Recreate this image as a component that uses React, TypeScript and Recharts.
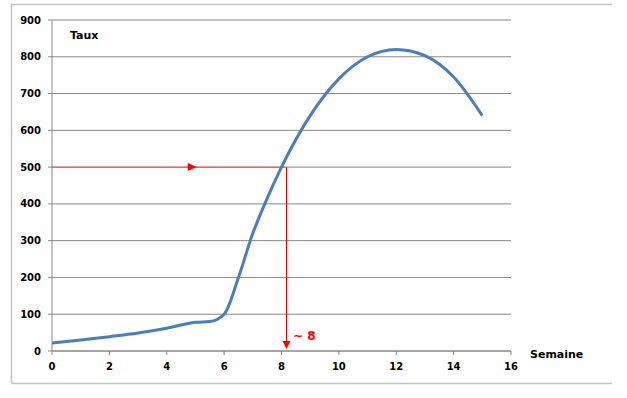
import React from 'react';
import {
  LineChart, Line, XAxis, YAxis, CartesianGrid, ReferenceLine, Customized,
} from 'recharts';

// semaines et taux
const weeks = [0, 1, 2, 3, 4, 5, 5.5, 6, 6.5, 7, 7.5, 8, 9, 10, 11, 12, 13, 14, 15];
const taux = [22, 30, 39, 49, 62, 78, 80, 100, 200, 320, 415, 500, 640, 740, 800, 820, 803, 745, 640];

const xTicks = [0, 2, 4, 6, 8, 10, 12, 14, 16];
const yTicks = [0, 100, 200, 300, 400, 500, 600, 700, 800, 900];

// lecture : taux 500 -> semaine ~8
const seuil = 500;
const semaineLue = 8.14;

const data = weeks.map((w, i) => ({ semaine: w, taux: taux[i] }));
const gridValues = yTicks.filter((v) => v !== seuil);

const RED = '#ff0000';
const LINE_RED = '#e00000';
const GRID = '#878787';
const FONT = '"DejaVu Sans", Verdana, sans-serif';

const ArrowH = (props: any) => {
  const { x1, y1, x2 } = props;
  const tip = x1 + (x2 - x1) * 0.62;
  return (
    <g>
      <line x1={x1} y1={y1} x2={x2} y2={y1} stroke={LINE_RED} strokeWidth={1} />
      <polygon points={`${tip},${y1} ${tip - 9},${y1 - 4} ${tip - 9},${y1 + 4}`} fill={RED} />
    </g>
  );
};

const ArrowV = (props: any) => {
  const { x1, y1, y2 } = props;
  const x = Math.round(x1) + 0.5;
  const tip = Math.max(y1, y2) - 2;
  return (
    <g>
      <line x1={x} y1={Math.min(y1, y2)} x2={x} y2={tip - 4} stroke={LINE_RED} strokeWidth={1} />
      <polygon points={`${x},${tip} ${x - 4},${tip - 8} ${x + 4},${tip - 8}`} fill={RED} />
    </g>
  );
};

const Decor = () => (
  <g>
    <path d="M11.5,383.5 L11.5,4.5 L612,4.5 M11.5,383.5 L612,383.5" stroke="#c4c4c4" strokeWidth={1.5} fill="none" />
    <text x={70} y={39} fontFamily={FONT} fontSize={11} fontWeight="bold" fill="#000">Taux</text>
    <text x={530} y={358} fontFamily={FONT} fontSize={11} fontWeight="bold" fill="#000">Semaine</text>
    <text x={293} y={340} fontFamily={FONT} fontSize={12} fontWeight="bold" fill={RED}>~ 8</text>
  </g>
);

export default function App() {
  return (
    <div style={{ position: 'absolute', left: 0, top: 0, background: '#fff' }}>
      <LineChart
        width={627}
        height={398}
        data={data}
        margin={{ top: 20, right: 116, bottom: 17, left: 12 }}
      >
        <CartesianGrid vertical={false} horizontalValues={gridValues} stroke={GRID} strokeWidth={1} />
        <XAxis
          dataKey="semaine"
          type="number"
          domain={[0, 16]}
          ticks={xTicks}
          height={30}
          stroke={GRID}
          tickSize={4}
          tickMargin={8}
          tick={{ fill: '#000', fontSize: 10, fontWeight: 'bold', fontFamily: FONT }}
        />
        <YAxis
          type="number"
          domain={[0, 900]}
          ticks={yTicks}
          width={40}
          stroke={GRID}
          tickSize={4}
          tickMargin={7}
          tick={{ fill: '#000', fontSize: 10, fontWeight: 'bold', fontFamily: FONT }}
        />
        <ReferenceLine
          segment={[{ x: semaineLue, y: seuil }, { x: 16, y: seuil }]}
          stroke={GRID}
          strokeWidth={1}
        />
        <ReferenceLine
          segment={[{ x: 0, y: seuil }, { x: semaineLue, y: seuil }]}
          shape={ArrowH}
        />
        <ReferenceLine
          segment={[{ x: semaineLue, y: seuil }, { x: semaineLue, y: 0 }]}
          shape={ArrowV}
        />
        <Line
          type="monotone"
          dataKey="taux"
          stroke="#4a7ebb"
          strokeWidth={3}
          dot={false}
          isAnimationActive={false}
        />
        <Customized component={Decor} />
      </LineChart>
    </div>
  );
}
